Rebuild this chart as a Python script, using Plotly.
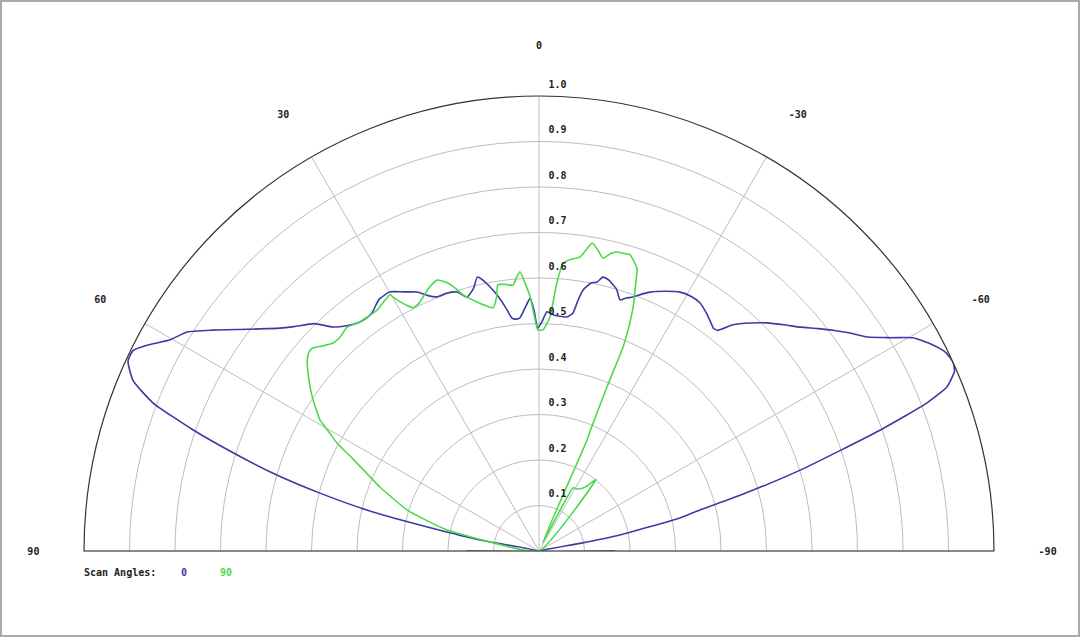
import plotly.graph_objects as go

# scan angle 0 (blue) - theta in degrees (positive = left), r normalised
scan0_theta = [90, 82, 79.4, 77.7, 76.6, 75.2, 73.7, 72.2, 70.7, 69.0, 67.2, 65.2, 63.7, 62.3,
               60.2, 58.1, 55.9, 52.8, 49.3, 47.5, 44.7, 42.6, 40.3, 38.5, 36.4, 34.9, 32.5,
               29.9, 27.5, 25.2, 23.5, 21.9, 19.6, 17.6, 15.8, 14.0, 12.7, 11.7, 10.5, 9.3,
               7.8, 6.6, 5.6, 4.7, 3.3, 2.0, 1.2, 0.3, -0.8, -1.9, -3.4, -5.0, -6.8, -8.1,
               -8.9, -9.6, -11.0, -12.2, -13.1, -14.2, -15.2, -16.5, -17.9, -19.0, -20.3,
               -21.8, -23.2, -26.0, -28.6, -31.0, -33.0, -35.0, -37.0, -38.0, -39.0, -40.6,
               -42.8, -45.0, -47.5, -49.4, -51.5, -53.1, -55.0, -56.9, -58.8, -60.3, -62.4,
               -64.0, -65.5, -66.6, -68.1, -69.1, -70.5, -72.8, -74.5, -75.7, -76.8, -78.8,
               -79.5, -82, -90]
scan0_r = [0.160, 0.0, 0.132, 0.268, 0.389, 0.498, 0.609, 0.706, 0.806, 0.909, 0.968, 0.995, 0.995, 0.973,
           0.934, 0.911, 0.866, 0.806, 0.751, 0.730, 0.703, 0.669, 0.650, 0.640, 0.637, 0.640, 0.655,
           0.657, 0.642, 0.629, 0.612, 0.602, 0.602, 0.597, 0.580, 0.595, 0.617, 0.608, 0.590, 0.570,
           0.540, 0.515, 0.512, 0.514, 0.535, 0.556, 0.530, 0.490, 0.505, 0.526, 0.520, 0.518, 0.518, 0.528,
           0.560, 0.582, 0.600, 0.605, 0.618, 0.616, 0.610, 0.600, 0.580, 0.588, 0.595,
           0.608, 0.619, 0.635, 0.648, 0.652, 0.650, 0.640, 0.628, 0.622, 0.624, 0.655,
           0.683, 0.709, 0.735, 0.756, 0.785, 0.808, 0.835, 0.861, 0.905, 0.946, 0.977,
           0.995, 1.0, 0.995, 0.966, 0.913, 0.795, 0.601, 0.460, 0.365, 0.318, 0.181,
           0.092, 0.0, 0.167]

# scan angle 90 (green)
scan90_theta = [85, 80, 77.1, 74.1, 72.7, 68.1, 66.8, 63.5, 61.9, 60.5, 59.1, 56.0, 53.2, 50.5,
                49.0, 48.1, 46.5, 44.7, 42.9, 40.6, 38.5, 36.3, 33.9, 32.0, 30.2, 29.5, 28.4,
                27.4, 25.8, 24.5, 22.5, 20.6, 18.9, 17.6, 16.5, 14.0, 12.3, 10.7, 9.5, 8.8,
                7.0, 5.6, 4.6, 3.9, 3.0, 2.0, 1.0, 0.3, -1.0, -2.7, -3.4, -3.8, -4.8, -6.3,
                -7.9, -9.0, -9.8, -11.0, -12.3, -13.5, -14.6, -16.0, -17.1, -18.3, -19.1,
                -20.0, -21.1, -22.0, -22.4, -22.5, -23.0, -23.4, -23.5,
                -28.5, -31.5, -34.0, -36.5, -38.5, -37.5]
scan90_r = [0.0, 0.10, 0.207, 0.272, 0.304, 0.377, 0.397, 0.460, 0.503, 0.530, 0.561, 0.600, 0.632, 0.660,
            0.669, 0.668, 0.655, 0.643, 0.642, 0.648, 0.640, 0.638, 0.638, 0.645, 0.651, 0.634, 0.615,
            0.602, 0.605, 0.614, 0.628, 0.636, 0.623, 0.605, 0.587, 0.564, 0.552, 0.544, 0.565, 0.592,
            0.590, 0.587, 0.605, 0.615, 0.590, 0.559, 0.510, 0.486, 0.486, 0.515, 0.560, 0.590, 0.635, 0.645,
            0.652, 0.672, 0.687, 0.675, 0.659, 0.672, 0.679, 0.680, 0.681, 0.668, 0.658,
            0.620, 0.575, 0.520, 0.485, 0.390, 0.297, 0.266, 0.02,
            0.158, 0.160, 0.165, 0.178, 0.202, 0.0]

angle_ticks = [90, 60, 30, 0, -30, -60, -90]
angle_labels = ["90", "60", "30", "0", "-30", "-60", "-90"]
radial_ticks = [0.1, 0.2, 0.3, 0.4, 0.5, 0.6, 0.7, 0.8, 0.9, 1.0]
radial_labels = ["0.1", "0.2", "0.3", "0.4", "0.5", "0.6", "0.7", "0.8", "0.9", "1.0"]

BLUE = "#3b3ba6"
GREEN = "#4cd94c"
mono = dict(family="DejaVu Sans Mono", size=10, color="#222", weight="bold")

# page geometry (pixels)
W, H = 1080, 637
CX, CY, RAD = 539, 551, 455          # centre and radius of the half disc
ML, MR, MT, MB = 60, 60, 60, H - CY
PW, PH = W - ML - MR, H - MT - MB
LIFT = 0.025                          # radial labels sit a little above their circle


def px_x(x):
    return (x - ML) / PW


def px_y(y):
    return (H - MB - y) / PH


def half_disc(rad):
    return dict(x=[px_x(CX - rad), px_x(CX + rad)], y=[0, rad / PH])


fig = go.Figure()
fig.add_trace(go.Scatterpolar(theta=scan0_theta, r=scan0_r, mode="lines",
                              line=dict(color=BLUE, width=1.6, shape="spline", smoothing=0.5),
                              name="0"))
fig.add_trace(go.Scatterpolar(theta=scan90_theta, r=scan90_r, mode="lines",
                              line=dict(color=GREEN, width=1.6, shape="spline", smoothing=0.5),
                              name="90"))
# empty trace so the label-only overlay subplot gets drawn
fig.add_trace(go.Scatterpolar(theta=[], r=[], subplot="polar2", hoverinfo="skip"))

fig.update_layout(
    width=W, height=H,
    margin=dict(l=ML, r=MR, t=MT, b=MB),
    paper_bgcolor="white",
    showlegend=False,
    font=mono,
    polar=dict(
        domain=half_disc(RAD),
        bgcolor="white",
        sector=[0, 180],
        angularaxis=dict(
            rotation=90, direction="counterclockwise",
            tickmode="array", tickvals=angle_ticks, ticktext=angle_labels,
            showline=True, linecolor="#333", linewidth=1.2,
            gridcolor="#bdbdbd", gridwidth=1,
            ticks="outside", ticklen=42, tickcolor="rgba(0,0,0,0)",
            tickfont=mono,
        ),
        radialaxis=dict(
            range=[0, 1], angle=90,
            tickmode="array", tickvals=radial_ticks, showticklabels=False,
            showline=False, gridcolor="#bdbdbd", gridwidth=1, ticks="",
        ),
    ),
    polar2=dict(
        domain=half_disc(RAD * (1 + LIFT)),
        bgcolor="rgba(0,0,0,0)",
        sector=[0, 180],
        angularaxis=dict(rotation=90, direction="counterclockwise", visible=False),
        radialaxis=dict(
            range=[0, 1 + LIFT], angle=90, side="clockwise", tickangle=90,
            tickmode="array", tickvals=[v + LIFT for v in radial_ticks],
            ticktext=radial_labels,
            showline=False, showgrid=False,
            ticks="outside", ticklen=7, tickcolor="rgba(0,0,0,0)", tickfont=mono,
        ),
    ),
    annotations=[
        dict(text="Scan Angles:", x=px_x(82), y=px_y(572), xref="paper", yref="paper",
             xanchor="left", yanchor="middle", showarrow=False, font=mono),
        dict(text="0", x=px_x(184), y=px_y(572), xref="paper", yref="paper",
             xanchor="center", yanchor="middle", showarrow=False, font=dict(mono, color=BLUE)),
        dict(text="90", x=px_x(226), y=px_y(572), xref="paper", yref="paper",
             xanchor="center", yanchor="middle", showarrow=False, font=dict(mono, color=GREEN)),
    ],
    shapes=[
        dict(type="rect", xref="paper", yref="paper",
             x0=px_x(1), x1=px_x(W - 1), y0=px_y(H - 1), y1=px_y(1),
             line=dict(color="#aaa", width=2)),
    ],
)

# drop the browser's default body margin so the figure sits at the page corner
fig.write_html("out.html", config={"displayModeBar": False},
               post_script="document.body.style.margin='0';")
